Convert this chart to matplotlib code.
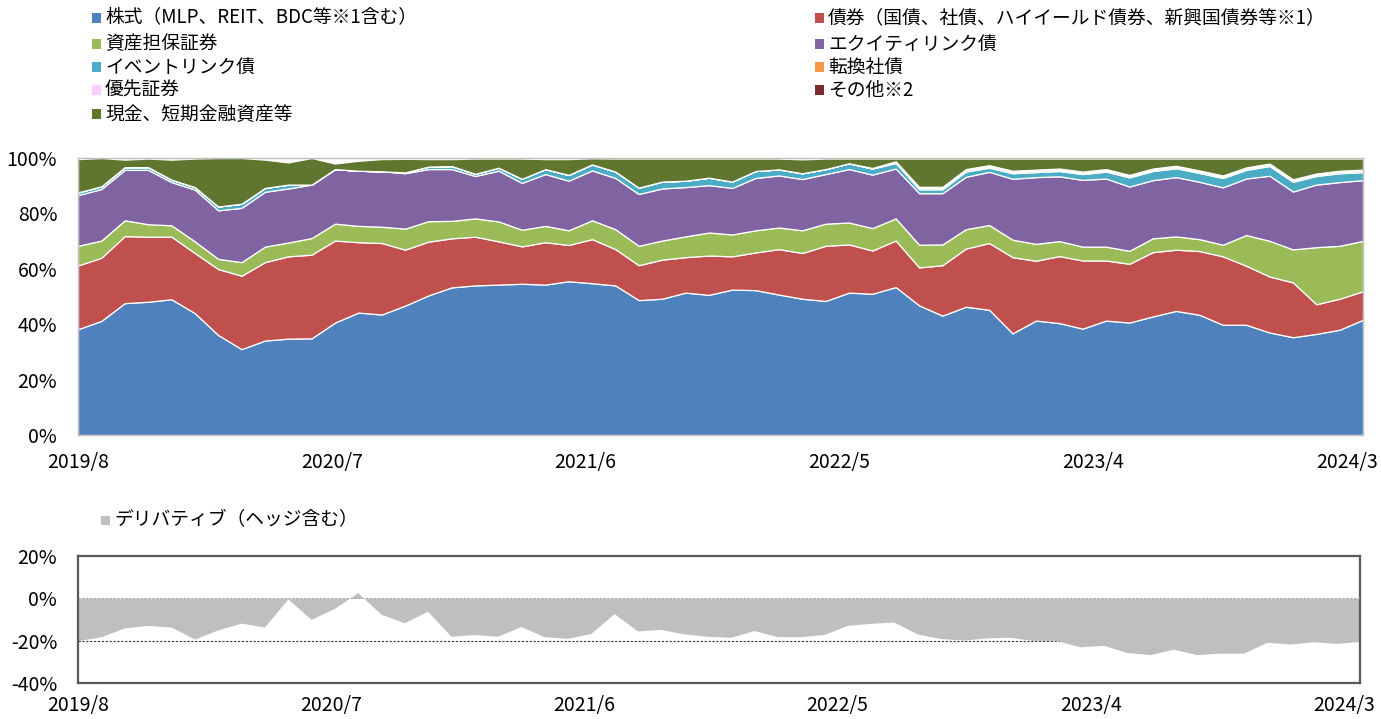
import matplotlib
matplotlib.use("Agg")
import matplotlib.pyplot as plt
import matplotlib.transforms as mtransforms
from matplotlib.patches import Rectangle
import numpy as np

plt.rcParams['font.family'] = ['Noto Sans CJK JP', 'DejaVu Sans']

# ---------------- data (monthly, 2019/8 .. 2024/3) ----------------
months = ["2019/8"]  # first label; others derived for ticks below
tick_idx = [0, 11, 22, 33, 44, 55]
tick_labels = ["2019/8", "2020/7", "2021/6", "2022/5", "2023/4", "2024/3"]

stocks = [38.2, 41.2, 47.6, 48.1, 49.0, 44.0, 36.1, 31.0, 34.1, 34.8,
          34.9, 40.6, 44.2, 43.5, 46.7, 50.4, 53.3, 54.0, 54.3, 54.6,
          54.3, 55.5, 54.8, 54.0, 48.7, 49.2, 51.4, 50.6, 52.5, 52.3,
          50.7, 49.2, 48.4, 51.4, 51.0, 53.4, 46.8, 43.1, 46.3, 45.2,
          36.7, 41.3, 40.4, 38.4, 41.3, 40.6, 42.8, 44.8, 43.4, 39.8,
          39.8, 37.0, 35.3, 36.5, 38.0, 41.6]
bonds = [23.0, 22.8, 24.2, 23.5, 22.6, 21.7, 23.8, 26.5, 28.3, 29.7,
         30.2, 29.6, 25.4, 25.8, 20.2, 19.4, 17.7, 17.6, 15.6, 13.5,
         15.3, 13.1, 15.9, 13.1, 12.6, 14.1, 12.8, 14.2, 12.0, 13.6,
         16.4, 16.5, 19.9, 17.4, 15.6, 16.8, 13.7, 18.2, 21.0, 24.1,
         27.5, 21.6, 24.2, 24.6, 21.7, 21.2, 23.2, 22.1, 23.0, 24.7,
         21.3, 20.2, 19.8, 10.7, 11.2, 10.3]
abs_sec = [7.1, 6.2, 5.7, 4.5, 4.1, 4.2, 3.7, 4.9, 5.6, 5.0,
           6.0, 6.1, 5.9, 5.9, 7.6, 7.4, 6.3, 6.6, 7.2, 6.0,
           5.9, 5.3, 6.8, 7.2, 7.0, 6.9, 7.5, 8.3, 7.9, 8.0,
           7.8, 8.2, 8.0, 7.9, 8.1, 8.0, 8.2, 7.5, 7.0, 6.5,
           6.3, 6.1, 5.4, 5.0, 5.0, 4.7, 5.0, 4.8, 4.3, 4.2,
           11.1, 12.9, 11.9, 20.6, 19.1, 18.2]
equity_linked = [18.3, 18.6, 18.2, 19.6, 15.6, 18.7, 17.5, 19.6, 19.8, 19.5,
                 19.3, 19.7, 19.9, 20.0, 20.0, 18.8, 18.7, 15.3, 18.3, 16.9,
                 18.7, 17.9, 18.0, 18.5, 18.7, 18.8, 17.8, 17.1, 16.8, 18.9,
                 18.8, 18.5, 17.9, 19.3, 19.3, 18.0, 18.6, 18.5, 18.9, 19.2,
                 22.0, 24.1, 23.4, 24.1, 24.6, 23.2, 21.0, 21.4, 20.7, 20.7,
                 20.4, 23.5, 20.9, 22.6, 23.0, 21.9]
event_linked = [1.0, 1.0, 1.0, 1.0, 0.9, 0.9, 1.4, 1.5, 1.4, 1.4,
                0.0, 0.0, 0.0, 0.0, 0.3, 0.9, 1.1, 0.8, 1.1, 1.5,
                1.8, 2.1, 2.2, 2.3, 2.3, 2.5, 2.3, 2.7, 2.3, 2.5,
                2.2, 2.1, 1.8, 2.1, 2.2, 2.0, 1.4, 1.4, 1.9, 1.5,
                2.0, 1.8, 1.9, 2.1, 2.5, 3.3, 3.3, 3.2, 3.2, 3.4,
                3.1, 3.5, 3.5, 3.1, 3.2, 2.9]
convertible = [0.0] * 35 + [0.3] + [0.5] * 20
preferred = [0.0] * 36 + [0.2] * 20
other = [0.0] * 34 + [0.2, 0.3] + [0.2] * 20
cash = [12.0, 10.2, 2.7, 3.1, 7.2, 10.3, 17.5, 16.5, 10.2, 8.0,
        9.6, 2.0, 3.6, 4.4, 4.9, 2.7, 2.5, 5.5, 3.3, 7.3,
        3.6, 5.7, 2.2, 4.7, 10.5, 8.3, 8.0, 6.9, 8.3, 4.5,
        3.9, 5.0, 3.8, 1.7, 3.4, 1.0, 10.2, 10.2, 3.8, 2.4,
        4.4, 4.0, 3.6, 4.7, 3.8, 5.9, 3.6, 2.6, 4.3, 6.1,
        3.2, 1.8, 7.5, 5.4, 4.4, 4.0]
derivatives = [-20.0, -18.1, -13.9, -12.8, -13.6, -19.2, -14.9, -11.7, -13.6, -0.3,
               -9.9, -4.8, 2.7, -7.5, -11.5, -6.1, -17.9, -17.1, -17.9, -13.3,
               -18.1, -18.9, -16.6, -7.2, -15.4, -14.7, -16.8, -17.9, -18.4, -15.2,
               -18.1, -18.1, -17.1, -12.8, -11.8, -11.2, -16.8, -19.0, -19.7, -18.7,
               -18.4, -20.0, -20.0, -22.9, -22.2, -25.6, -26.6, -24.0, -26.6, -25.9,
               -25.9, -20.8, -21.6, -20.5, -21.3, -20.3]

series_names = ["株式（MLP、REIT、BDC等※1含む）",
                "債券（国債、社債、ハイイールド債券、新興国債券等※1）",
                "資産担保証券", "エクイティリンク債", "イベントリンク債",
                "転換社債", "優先証券", "その他※2", "現金、短期金融資産等"]
deriv_name = "デリバティブ（ヘッジ含む）"

colors = ["#4F81BD", "#C0504D", "#9BBB59", "#8064A2", "#4BACC6",
          "#F79646", "#FFCCFF", "#7B2C2C", "#60762F"]
deriv_color = "#BFBFBF"

# ---------------- figure ----------------
W, H = 1381, 719
fig = plt.figure(figsize=(W / 100, H / 100), dpi=100)

x = np.arange(len(stocks))

# top stacked area chart
ax1 = fig.add_axes([78 / W, 1 - 435 / H, 1285 / W, 277 / H])
ax1.stackplot(x, stocks, bonds, abs_sec, equity_linked, event_linked,
              convertible, preferred, other, cash,
              colors=colors, edgecolor="white", linewidth=0.9)
ax1.set_xlim(0, len(x) - 1)
ax1.set_ylim(0, 100)
ax1.set_yticks([0, 20, 40, 60, 80, 100])
ax1.set_yticklabels([f"{v}%" for v in [0, 20, 40, 60, 80, 100]])
ax1.set_xticks(tick_idx)
ax1.set_xticklabels(tick_labels)
ax1.tick_params(axis="both", length=0, labelsize=14, colors="black")
ax1.tick_params(axis="y", pad=15)
ax1.tick_params(axis="x", pad=12)
for s in ax1.spines.values():
    s.set_color("#BFBFBF")
    s.set_linewidth(1.0)

# bottom derivative chart
ax2 = fig.add_axes([78 / W, 1 - 683 / H, 1282 / W, 127 / H])
ax2.axhline(-20, color="#333333", lw=0.8, ls=(0, (2, 1.5)), zorder=1)
ax2.fill_between(x, 0, derivatives, color=deriv_color, lw=0, zorder=2)
ax2.axhline(0, color="#A6A6A6", lw=0.8, ls=(0, (2, 1.5)), zorder=3)
ax2.set_xlim(0, len(x) - 1)
ax2.set_ylim(-40, 20)
ax2.set_yticks([-40, -20, 0, 20])
ax2.set_yticklabels(["-40%", "-20%", "0%", "20%"])
ax2.set_xticks(tick_idx)
ax2.set_xticklabels(tick_labels)
ax2.tick_params(axis="both", length=0, labelsize=14, colors="black")
ax2.tick_params(axis="y", pad=15)
ax2.tick_params(axis="x", pad=9)
for s in ax2.spines.values():
    s.set_color("#595959")
    s.set_linewidth(1.6)

# shift x tick labels slightly left (as in the reference layout)
for ax in (ax1, ax2):
    for k, lab in enumerate(ax.get_xticklabels()):
        dx = -0.032 * k
        lab.set_transform(lab.get_transform() +
                          mtransforms.ScaledTranslation(dx, 0, fig.dpi_scale_trans))

# ---------------- legends (manual, two columns) ----------------
def legend_item(xm, yc, color, text, size=13.5):
    fig.add_artist(Rectangle((xm / W, 1 - (yc + 4.5) / H), 9 / W, 9 / H,
                             transform=fig.transFigure, facecolor=color,
                             edgecolor="none"))
    fig.text((xm + 13) / W, 1 - yc / H, text, fontsize=size,
             va="center", ha="left")

rows = [18, 44, 67, 90, 114]
left_order = [0, 2, 4, 6, 8]
right_order = [1, 3, 5, 7]
for r, si in zip(rows, left_order):
    legend_item(92, r, colors[si], series_names[si])
for r, si in zip(rows, right_order):
    legend_item(815, r, colors[si], series_names[si])

legend_item(101, 520, deriv_color, deriv_name)

fig.savefig("out.png", dpi=100)
